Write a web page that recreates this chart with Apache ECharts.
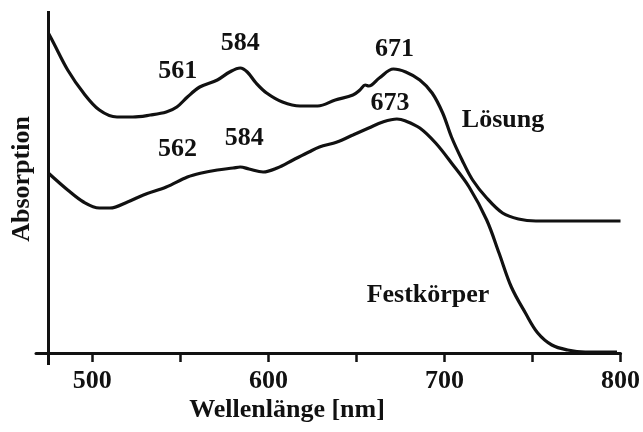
<!DOCTYPE html>
<html>
<head>
<meta charset="utf-8">
<script src="https://cdn.jsdelivr.net/npm/echarts@6/dist/echarts.min.js"></script>
<style>
  html, body { margin: 0; padding: 0; background: #fff; }
  #chart { width: 643px; height: 432px; }
</style>
</head>
<body>
<div id="chart"></div>
<script>
// Absorption spectra: solution vs. solid state (arbitrary absorbance units)
const wavelengthsSolution = [475,478,486,495,504,514,523,533,542,548,554,561,571,578,584,588,593,599,608,618,628,638,648,652,655,657,663,671,678,686,693,699,704,710,716,724,733,742,752,761,780,800];
const absorbanceSolution = [3.20,3.10,2.83,2.60,2.43,2.36,2.36,2.38,2.41,2.46,2.56,2.66,2.73,2.81,2.85,2.81,2.70,2.60,2.51,2.47,2.47,2.53,2.58,2.63,2.68,2.67,2.75,2.84,2.81,2.73,2.60,2.40,2.16,1.93,1.73,1.55,1.40,1.34,1.32,1.32,1.32,1.32];

const wavelengthsSolid = [475,486,495,504,510,520,529,542,554,562,571,580,584,589,597,605,614,623,629,639,648,657,665,673,678,686,695,704,714,724,731,738,746,753,761,770,780,798];
const absorbanceSolid = [1.80,1.63,1.51,1.45,1.45,1.51,1.58,1.66,1.76,1.80,1.83,1.85,1.86,1.84,1.81,1.85,1.93,2.01,2.06,2.11,2.18,2.25,2.31,2.34,2.32,2.25,2.10,1.90,1.66,1.33,1.00,0.66,0.40,0.20,0.08,0.03,0.01,0.01];

// Band positions (nm) marked on each spectrum
const peaksSolution = [561, 584, 671];
const peaksSolid = [562, 584, 673];

const seriesNames = ['Lösung', 'Festkörper'];
const tickValues = [500, 550, 600, 650, 700, 750, 800];
const tickLabels = [500, 600, 700, 800];
const xTitle = 'Wellenlänge [nm]';
const yTitle = 'Absorption';

// label placement relative to the band position on the curve
const peakLabelOffsetsSolution = [[-22, -16], [0, -25], [1, -20]];
const peakLabelOffsetsSolid = [[-24, -24], [4, -29], [-7, -16]];

const FONT = '"Liberation Serif", "Times New Roman", serif';
const INK = '#111';

function pairs(xs, ys) { return xs.map((x, i) => [x, ys[i]]); }
function valueAt(xs, ys, x) {
  for (let i = 0; i < xs.length - 1; i++) {
    if (x >= xs[i] && x <= xs[i + 1]) {
      const t = (x - xs[i]) / (xs[i + 1] - xs[i]);
      return ys[i] + t * (ys[i + 1] - ys[i]);
    }
  }
  return ys[ys.length - 1];
}
function peakMarks(xs, ys, peaks, offsets) {
  return peaks.map((w, i) => ({
    coord: [w, valueAt(xs, ys, w)],
    value: w,
    label: { offset: offsets[i] }
  }));
}
function caption(text, x, y, rotation) {
  return {
    type: 'text', x: x, y: y, rotation: rotation || 0,
    style: { text: text, font: 'bold 26px ' + FONT, fill: INK, align: 'center', verticalAlign: 'middle' }
  };
}

const labelText = { fontFamily: FONT, fontWeight: 'bold', fontSize: 26, color: INK };

const chart = echarts.init(document.getElementById('chart'), null, { renderer: 'canvas' });
chart.setOption({
  animation: false,
  backgroundColor: '#fff',
  grid: { left: 36, right: 21, top: 11, bottom: 67 },
  xAxis: {
    type: 'value',
    min: 468,
    max: 800,
    axisLine: { show: true, onZero: true, lineStyle: { color: INK, width: 3 } },
    axisTick: { show: true, customValues: tickValues, length: 9, lineStyle: { color: INK, width: 2.5 } },
    axisLabel: { customValues: tickLabels, margin: 3, ...labelText },
    splitLine: { show: false }
  },
  yAxis: {
    type: 'value',
    min: -0.12,
    max: 3.42,
    axisLine: { show: false },
    axisTick: { show: false },
    axisLabel: { show: false },
    splitLine: { show: false }
  },
  graphic: [
    caption(xTitle, 287, 410),
    caption(yTitle, 22, 179, Math.PI / 2),
    caption(seriesNames[0], 503, 120),
    caption(seriesNames[1], 428, 295)
  ],
  series: [
    {
      name: seriesNames[0],
      type: 'line',
      data: pairs(wavelengthsSolution, absorbanceSolution),
      smooth: 0.35,
      showSymbol: false,
      lineStyle: { color: INK, width: 3.2 },
      markPoint: {
        symbol: 'circle', symbolSize: 0, silent: true,
        label: { show: true, position: 'inside', formatter: p => String(p.value), ...labelText },
        data: peakMarks(wavelengthsSolution, absorbanceSolution, peaksSolution, peakLabelOffsetsSolution)
      },
      // vertical axis line, drawn at the start of the measured range
      markLine: {
        silent: true, symbol: 'none', label: { show: false },
        lineStyle: { color: INK, width: 3, type: 'solid' },
        data: [{ xAxis: 475 }]
      }
    },
    {
      name: seriesNames[1],
      type: 'line',
      data: pairs(wavelengthsSolid, absorbanceSolid),
      smooth: 0.35,
      showSymbol: false,
      lineStyle: { color: INK, width: 3.2 },
      markPoint: {
        symbol: 'circle', symbolSize: 0, silent: true,
        label: { show: true, position: 'inside', formatter: p => String(p.value), ...labelText },
        data: peakMarks(wavelengthsSolid, absorbanceSolid, peaksSolid, peakLabelOffsetsSolid)
      }
    }
  ]
});
</script>
</body>
</html>
